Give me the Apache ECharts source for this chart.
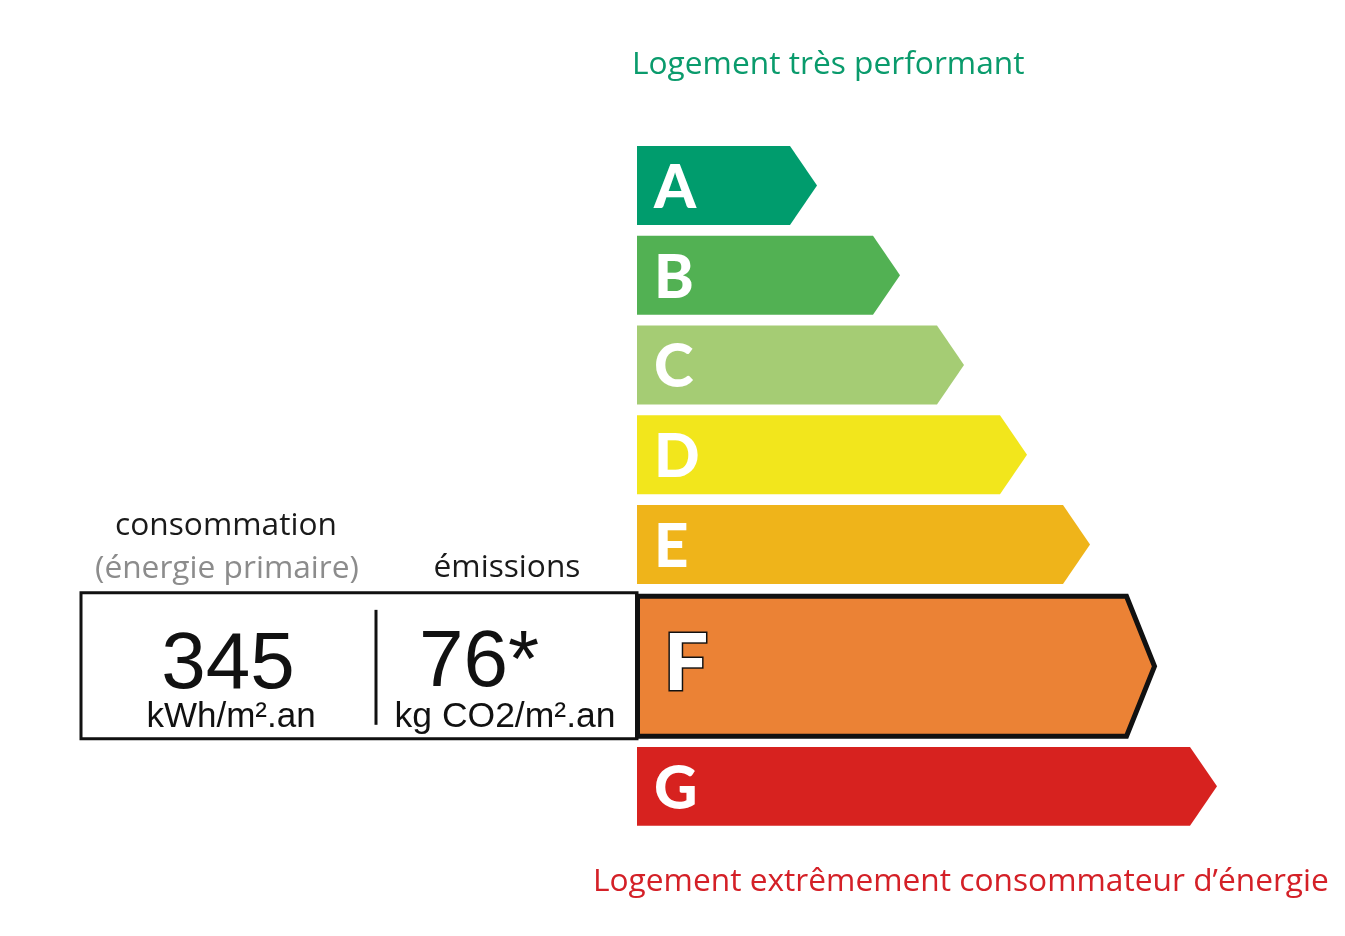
<!DOCTYPE html>
<html>
<head>
<meta charset="utf-8">
<script src="https://cdn.jsdelivr.net/npm/echarts@6/dist/echarts.min.js"></script>
<style>
html,body{margin:0;padding:0;background:#fff;}
#chart{width:1345px;height:936px;}
</style>
</head>
<body>
<div id="chart"></div>
<script>
// ---- data ----
const classes = ['A', 'B', 'C', 'D', 'E', 'F', 'G'];
const barLengths = [180, 263, 327, 390, 453, 520, 580];
const classColors = ['#009c6d', '#52b153', '#a5cc74', '#f2e61c', '#efb41a', '#eb8235', '#d7221f'];
const selectedClass = 'F';
const consumptionValue = '345';
const consumptionUnit = 'kWh/m².an';
const emissionValue = '76*';
const emissionUnit = 'kg CO2/m².an';
const topLabel = 'Logement très performant';
const bottomLabel = 'Logement extrêmement consommateur d\u2019énergie';
const consumptionTitle = 'consommation';
const consumptionSub = '(énergie primaire)';
const emissionTitle = 'émissions';

// row layout in y-axis units
const ROW_H = 0.88, GAP = 0.12, SEL_H = 1.615, SEL_GAP_BEFORE = 0.11, SEL_GAP_AFTER = 0.09;
function rowSpan(idx) {
  let y = 0;
  for (let i = 0; i < classes.length; i++) {
    const sel = classes[i] === selectedClass;
    const prevSel = i > 0 && classes[i - 1] === selectedClass;
    if (i > 0) y += sel ? SEL_GAP_BEFORE : (prevSel ? SEL_GAP_AFTER : GAP);
    const h = sel ? SEL_H : ROW_H;
    if (i === idx) return [y, y + h];
    y += h;
  }
}

const data = classes.map((c, i) => ({ value: [barLengths[i], i], name: c }));

const chart = echarts.init(document.getElementById('chart'), null, { renderer: 'canvas' });

function renderItem(params, api) {
  const i = params.dataIndex;
  const cls = classes[i];
  const len = api.value(0);
  const span = rowSpan(i);
  const p0 = api.coord([0, span[0]]);
  const p1 = api.coord([len, span[1]]);
  const x0 = p0[0], y0 = p0[1], xt = p1[0], y1 = p1[1];
  const midY = (y0 + y1) / 2;
  const sel = cls === selectedClass;
  const children = [];
  if (!sel) {
    const tip = 27;
    children.push({
      type: 'polygon',
      shape: { points: [[x0, y0], [xt - tip, y0], [xt, midY], [xt - tip, y1], [x0, y1]] },
      style: { fill: classColors[i] }
    });
    children.push({
      type: 'text',
      style: {
        text: cls, x: x0 + 17, y: midY + 3, fill: '#fff',
        font: '900 60px Lato', verticalAlign: 'middle', align: 'left'
      }
    });
  } else {
    const bw = 5, tip = 28;
    const l = x0 + 0.5, t = y0 + bw / 2, b = y1 - bw / 2, r = xt - bw / 2;
    // info box at left
    const boxL = 81;
    const boxT = y0 - 1;
    children.push({
      type: 'rect',
      shape: { x: boxL, y: boxT, width: x0 - boxL, height: y1 - boxT },
      style: { fill: '#fff', stroke: '#111', lineWidth: 3 }
    });
    children.push({
      type: 'line',
      shape: { x1: boxL + 295, y1: boxT + 17, x2: boxL + 295, y2: y1 - 14 },
      style: { stroke: '#111', lineWidth: 3 }
    });
    const numFont = '80px "Liberation Sans", Arial';
    const unitFont = '35px "Liberation Sans", Arial';
    children.push({ type: 'text', style: { text: consumptionValue, x: boxL + 147, y: boxT + 73, align: 'center', verticalAlign: 'middle', font: numFont, fill: '#111' } });
    children.push({ type: 'text', style: { text: consumptionUnit, x: boxL + 150, y: boxT + 124, align: 'center', verticalAlign: 'middle', font: unitFont, fill: '#111' } });
    children.push({ type: 'text', style: { text: emissionValue, x: boxL + 398, y: boxT + 71, align: 'center', verticalAlign: 'middle', font: numFont, fill: '#111' } });
    children.push({ type: 'text', style: { text: emissionUnit, x: boxL + 424, y: boxT + 124, align: 'center', verticalAlign: 'middle', font: '35.5px "Liberation Sans", Arial', fill: '#111' } });
    // headings above the box
    const headFont = '31.7px "Open Sans"';
    children.push({ type: 'text', style: { text: consumptionTitle, x: boxL + 145, y: boxT - 67, align: 'center', verticalAlign: 'middle', font: headFont, fill: '#1a1a1a' } });
    children.push({ type: 'text', style: { text: consumptionSub, x: boxL + 146, y: boxT - 24, align: 'center', verticalAlign: 'middle', font: headFont, fill: '#8c8c8c' } });
    children.push({ type: 'text', style: { text: emissionTitle, x: boxL + 426, y: boxT - 25, align: 'center', verticalAlign: 'middle', font: headFont, fill: '#1a1a1a' } });
    // selected arrow with black border
    children.push({
      type: 'polygon',
      shape: { points: [[l, t], [r - tip, t], [r, midY], [r - tip, b], [l, b]] },
      style: { fill: classColors[i], stroke: '#111', lineWidth: bw, lineJoin: 'miter' }
    });
    children.push({
      type: 'text',
      style: {
        text: cls, x: x0 + 27, y: midY - 1, fill: '#fff', stroke: '#111', lineWidth: 3,
        font: '900 78px Lato', verticalAlign: 'middle', align: 'left'
      }
    });
  }
  return { type: 'group', children: children };
}

chart.setOption({
  animation: false,
  backgroundColor: '#ffffff',
  grid: { left: 637, top: 146, width: 600, height: 718 },
  xAxis: { type: 'value', min: 0, max: 600, show: false },
  yAxis: { type: 'value', min: 0, max: 8, inverse: true, show: false },
  title: [
    { text: topLabel, left: 627, top: 44, textStyle: { fontFamily: 'Open Sans', fontWeight: 'normal', fontSize: 31.7, color: '#0a9b6c' } },
    { text: bottomLabel, left: 588, top: 861, textStyle: { fontFamily: 'Open Sans', fontWeight: 'normal', fontSize: 31.7, color: '#d42027' } }
  ],
  series: [{
    type: 'custom',
    renderItem: renderItem,
    data: data,
    clip: false
  }]
});
</script>
</body>
</html>
